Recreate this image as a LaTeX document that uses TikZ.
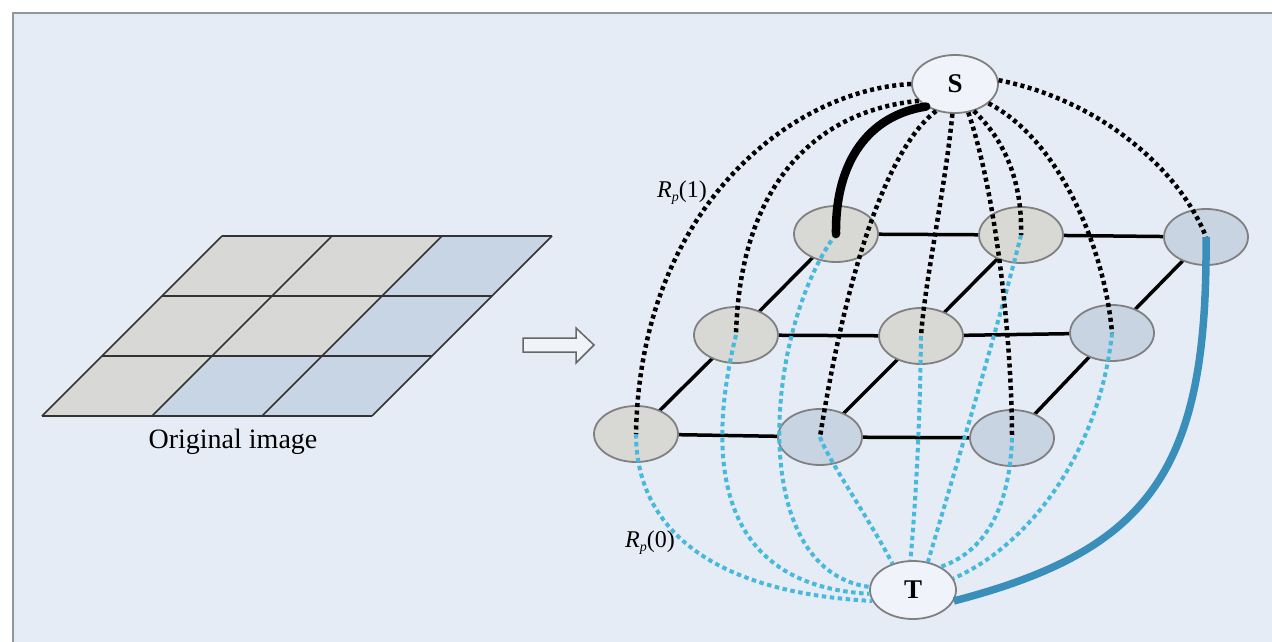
\documentclass[tikz,border=0pt]{standalone}
\usepackage{fontspec}
\setmainfont{Liberation Serif}
\usetikzlibrary{shapes.geometric}
\definecolor{bgc}{RGB}{230,236,245}
\definecolor{framec}{RGB}{150,150,150}
\definecolor{cellgray}{RGB}{216,216,214}
\definecolor{cellblue}{RGB}{200,213,228}
\definecolor{nodegray}{RGB}{216,216,212}
\definecolor{nodeblue}{RGB}{200,212,226}
\definecolor{stfill}{RGB}{240,243,249}
\definecolor{cyanline}{RGB}{70,185,220}
\definecolor{blueline}{RGB}{58,142,186}
\begin{document}
\begin{tikzpicture}[x=1pt,y=-1pt,
  cellline/.style={draw=black!80, line width=1.5pt, line join=round},
  gridedge/.style={draw=black, line width=3.5pt},
  gnode/.style={ellipse, draw=black!50, line width=1.8pt, fill=nodegray, minimum width=84pt, minimum height=56pt, inner sep=0pt},
  bnode/.style={gnode, fill=nodeblue},
  stnode/.style={ellipse, draw=black!50, line width=1.8pt, fill=stfill, minimum width=86pt, minimum height=58pt, inner sep=0pt, font=\fontsize{27}{29}\selectfont\bfseries},
  blackdot/.style={draw=black, line width=4.5pt, dash pattern=on 4pt off 3.5pt},
  cyandash/.style={draw=cyanline, line width=4pt, dash pattern=on 4.5pt off 3.5pt},
  cutblack/.style={draw=black, line width=8.5pt, line cap=round},
  cutblue/.style={draw=blueline, line width=7.5pt},
  lbl/.style={font=\fontsize{24}{28}\selectfont, inner sep=0pt}
]
\useasboundingbox (0,0) rectangle (1272,642);
\fill[white] (0,0) rectangle (1272,642);
\fill[bgc] (13,13) rectangle (1272,642);
\draw[framec, line width=2pt] (13,642) -- (13,13) -- (1272,13);

% left grid (original image)
\foreach \u/\v/\c in {0/0/cellgray,1/0/cellgray,2/0/cellblue,
                       0/1/cellgray,1/1/cellgray,2/1/cellblue,
                       0/2/cellgray,1/2/cellblue,2/2/cellblue}{
  \fill[\c] ({222+110*\u-60*\v},{236+60*\v}) -- ({332+110*\u-60*\v},{236+60*\v})
     -- ({272+110*\u-60*\v},{296+60*\v}) -- ({162+110*\u-60*\v},{296+60*\v}) -- cycle;
}
\foreach \v in {0,1,2,3}{
  \draw[cellline] ({222-60*\v},{236+60*\v}) -- ({552-60*\v},{236+60*\v});
}
\foreach \u in {0,1,2,3}{
  \draw[cellline] ({222+110*\u},236) -- ({42+110*\u},416);
}
\node[font=\fontsize{28}{32}\selectfont, inner sep=0pt] (orig) at (233,442) {Original image};

% arrow
\draw[draw=black!60, fill=bgc!60!white, line width=1.5pt, line join=miter]
  (523,338) -- (576,338) -- (576,328) -- (594,345) -- (576,363) -- (576,352) -- (523,352) -- cycle;

% graph coordinates
\coordinate (c11) at (836,234);
\coordinate (c12) at (1021,235);
\coordinate (c13) at (1206,237);
\coordinate (c21) at (736,335);
\coordinate (c22) at (921,336);
\coordinate (c23) at (1112,333);
\coordinate (c31) at (636,434);
\coordinate (c32) at (820,437);
\coordinate (c33) at (1012,438);

% grid edges
\draw[gridedge] (c11) -- (c12) -- (c13);
\draw[gridedge] (c21) -- (c22) -- (c23);
\draw[gridedge] (c31) -- (c32) -- (c33);
\draw[gridedge] (c11) -- (c21) -- (c31);
\draw[gridedge] (c12) -- (c22) -- (c32);
\draw[gridedge] (c13) -- (c23) -- (c33);

% pixel nodes
\node[gnode] (n11) at (c11) {};
\node[gnode] (n12) at (c12) {};
\node[bnode] (n13) at (c13) {};
\node[gnode] (n21) at (c21) {};
\node[gnode] (n22) at (c22) {};
\node[bnode] (n23) at (c23) {};
\node[gnode] (n31) at (c31) {};
\node[bnode] (n32) at (c32) {};
\node[bnode] (n33) at (c33) {};

% S and T
\node[stnode] (S) at (955,84) {S};
\node[stnode] (T) at (913,590) {T};

% cyan dashed (to T)
\draw[cyandash] (c31) .. controls (636,520) and (700,592) .. (T.195);
\draw[cyandash] (c21) .. controls (710,440) and (705,585) .. (T.185);
\draw[cyandash] (c11) .. controls (765,330) and (745,570) .. (T.176);
\draw[cyandash] (c32) .. controls (828,460) and (870,520) .. (T.128);
\draw[cyandash] (c22) .. controls (920,420) and (916,500) .. (T.95);
\draw[cyandash] (c12) .. controls (1000,320) and (955,470) .. (T.62);
\draw[cyandash] (c33) .. controls (1010,500) and (990,550) .. (T.40);
\draw[cyandash] (c23) .. controls (1100,450) and (1030,545) .. (T.16);

% black dotted (from S)
\draw[blackdot] (S.180) .. controls (790,90) and (640,210) .. (c31);
\draw[blackdot] (S.205) .. controls (820,110) and (740,180) .. (c21);
\draw[blackdot] (S.235) .. controls (885,150) and (845,280) .. (c32);
\draw[blackdot] (S.265) .. controls (945,190) and (925,280) .. (c22);
\draw[blackdot] (S.295) .. controls (998,200) and (1012,350) .. (c33);
\draw[blackdot] (S.305) .. controls (1015,150) and (1022,200) .. (c12);
\draw[blackdot] (S.330) .. controls (1060,140) and (1105,250) .. (c23);
\draw[blackdot] (S.5) .. controls (1100,100) and (1180,170) .. (c13);

% cut edges
\draw[cutblack] (S.218) .. controls (870,115) and (835,160) .. (c11);
\draw[cutblue] (c13) .. controls (1208,470) and (1150,550) .. (T.-15);

% labels
\node[lbl] (r1) at (682,193) {\textit{R}\raisebox{-0.35ex}{\fontsize{14}{15}\selectfont\textit{p}}(1)};
\node[lbl] (r0) at (650,543) {\textit{R}\raisebox{-0.35ex}{\fontsize{14}{15}\selectfont\textit{p}}(0)};
\end{tikzpicture}
\end{document}
